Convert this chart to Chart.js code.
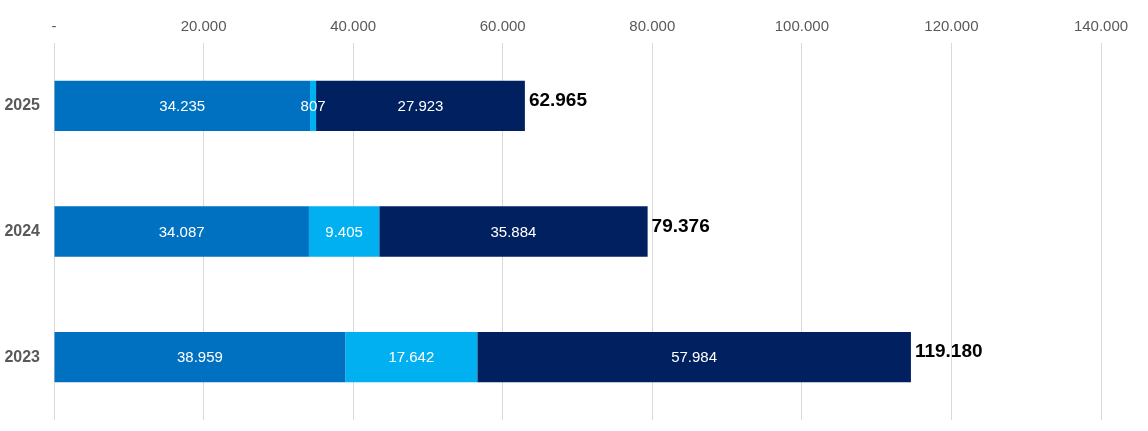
<!DOCTYPE html>
<html>
<head>
<meta charset="utf-8">
<script src="https://cdn.jsdelivr.net/npm/chart.js@4.4.1/dist/chart.umd.min.js"></script>
<style>
  html, body { margin: 0; padding: 0; background: #fff; }
  #wrap { width: 1148px; height: 431px; position: relative; }
</style>
</head>
<body>
<div id="wrap"><canvas id="chart"></canvas></div>
<script>
// data dari gambar
var tahun = ['2025', '2024', '2023'];
var seri1 = [34235, 34087, 38959];
var seri2 = [807, 9405, 17642];
var seri3 = [27923, 35884, 57984];
var totalLabel = [62965, 79376, 119180];
var tickMax = 140000;

var FONT = '"Liberation Sans", Arial, sans-serif';

function formatTitik(v) {
  if (v === 0) return '-';
  return v.toLocaleString('de-DE');
}

// plugin label isi bar + total
var labelPlugin = {
  id: 'labelBar',
  afterDatasetsDraw: function(chart) {
    var ctx = chart.ctx;
    ctx.save();
    ctx.textBaseline = 'middle';
    chart.data.datasets.forEach(function(ds, di) {
      var meta = chart.getDatasetMeta(di);
      meta.data.forEach(function(bar, i) {
        var tengah = (bar.x + bar.base) / 2;
        ctx.fillStyle = '#ffffff';
        ctx.font = '15px ' + FONT;
        ctx.textAlign = 'center';
        ctx.fillText(formatTitik(ds.data[i]), tengah, bar.y + 1);
      });
    });
    // total di ujung bar
    var last = chart.getDatasetMeta(chart.data.datasets.length - 1);
    last.data.forEach(function(bar, i) {
      ctx.fillStyle = '#000000';
      ctx.font = 'bold 19px ' + FONT;
      ctx.textAlign = 'left';
      ctx.fillText(formatTitik(totalLabel[i]), bar.x + 4, bar.y - 5);
    });
    ctx.restore();
  }
};

new Chart(document.getElementById('chart'), {
  type: 'bar',
  data: {
    labels: tahun,
    datasets: [
      { label: 'Seri 1', data: seri1, backgroundColor: '#0070C0' },
      { label: 'Seri 2', data: seri2, backgroundColor: '#00B0F0' },
      { label: 'Seri 3', data: seri3, backgroundColor: '#002060' }
    ]
  },
  options: {
    indexAxis: 'y',
    responsive: true,
    maintainAspectRatio: false,
    animation: false,
    barPercentage: 0.4,
    categoryPercentage: 1.0,
    layout: { padding: { top: 0, right: 47, bottom: 11, left: 0 } },
    plugins: { legend: { display: false }, tooltip: { enabled: false } },
    scales: {
      x: {
        position: 'top',
        stacked: true,
        min: 0,
        max: tickMax,
        afterFit: function(s) { s.height = 43; s.paddingLeft = 0; s.paddingRight = 0; },
        ticks: {
          stepSize: 20000,
          color: '#595959',
          padding: 7,
          maxRotation: 0,
          font: { size: 15, family: FONT },
          callback: function(v) { return formatTitik(v); }
        },
        grid: { color: '#d9d9d9', drawTicks: false },
        border: { display: false }
      },
      y: {
        stacked: true,
        afterFit: function(s) { s.width = 54; s.paddingTop = 0; s.paddingBottom = 0; },
        ticks: {
          color: '#595959',
          padding: 14,
          font: { size: 16, weight: 'bold', family: FONT }
        },
        grid: { display: false, drawTicks: false },
        border: { display: false }
      }
    }
  },
  plugins: [labelPlugin]
});
</script>
</body>
</html>
